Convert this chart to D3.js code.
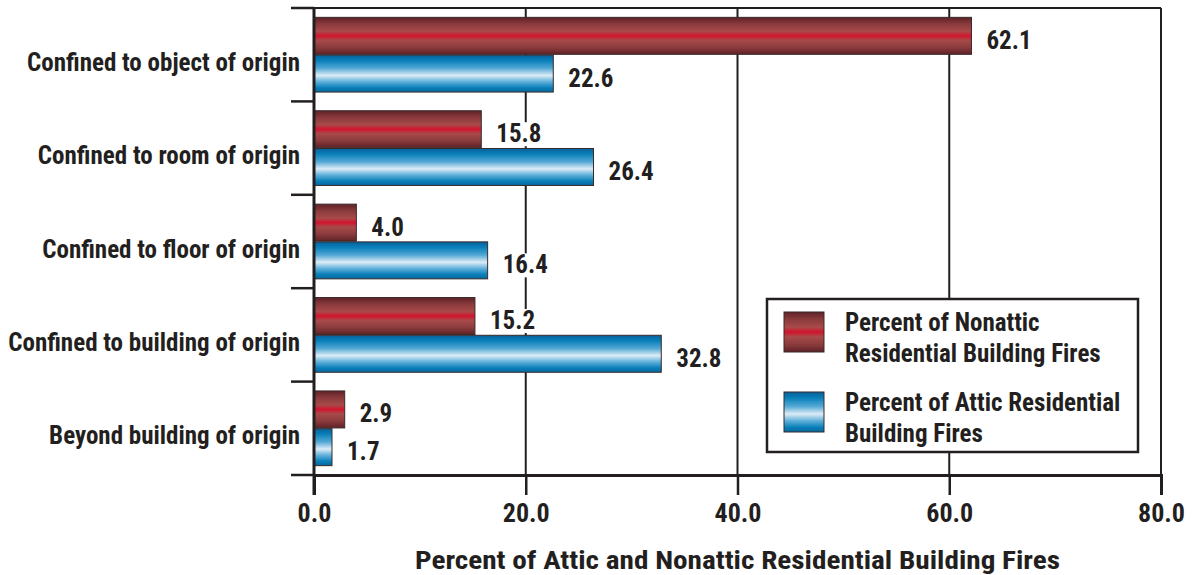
<!DOCTYPE html>
<html>
<head>
<meta charset="utf-8">
<script src="https://cdn.jsdelivr.net/npm/d3@7"></script>
<style>
  html, body { margin: 0; padding: 0; background: #fff; }
  svg { display: block; }
  text { font-family: "Liberation Sans Narrow", "Arial Narrow", "Roboto Condensed", "Liberation Sans", sans-serif; font-weight: bold; fill: #231f20; }
</style>
</head>
<body>
<svg id="chart" width="1192" height="575"></svg>
<script>
// Extent of fire spread, attic vs. nonattic residential building fires (%)
const categories = [
  "Confined to object of origin",
  "Confined to room of origin",
  "Confined to floor of origin",
  "Confined to building of origin",
  "Beyond building of origin"
];
const nonatticValues = [62.1, 15.8, 4.0, 15.2, 2.9];
const atticValues = [22.6, 26.4, 16.4, 32.8, 1.7];
const xTicks = [0, 20, 40, 60, 80];
const seriesNames = [
  ["Percent of Nonattic", "Residential Building Fires"],
  ["Percent of Attic Residential", "Building Fires"]
];
const axisTitle = "Percent of Attic and Nonattic Residential Building Fires";

const svg = d3.select("#chart");
const margin = { left: 314, right: 31, top: 8, bottom: 100 };
const W = 1192, H = 575;
const innerW = W - margin.left - margin.right;
const innerH = H - margin.top - margin.bottom;

const x = d3.scaleLinear().domain([0, 80]).range([margin.left, margin.left + innerW]);
const y = d3.scaleBand().domain(categories).range([margin.top, margin.top + innerH]).paddingInner(0.2).paddingOuter(0.1);
const sub = d3.scaleBand().domain(["nonattic", "attic"]).range([0, y.bandwidth()]).paddingInner(0.02);

// gradients
const defs = svg.append("defs");
const redGrad = defs.append("linearGradient").attr("id", "gradRed").attr("x1", 0).attr("y1", 0).attr("x2", 0).attr("y2", 1);
[[0, "#5e2227"], [0.18, "#8a3a3c"], [0.38, "#a84a4a"], [0.5, "#d2142d"], [0.62, "#a84a4a"], [0.82, "#8a3a3c"], [1, "#5e2227"]]
  .forEach(([o, c]) => redGrad.append("stop").attr("offset", o).attr("stop-color", c));
const blueGrad = defs.append("linearGradient").attr("id", "gradBlue").attr("x1", 0).attr("y1", 0).attr("x2", 0).attr("y2", 1);
[[0, "#06609a"], [0.15, "#0a80ba"], [0.35, "#4fa6d3"], [0.55, "#dcecf6"], [0.72, "#5fb0da"], [0.88, "#0a80ba"], [1, "#06689e"]]
  .forEach(([o, c]) => blueGrad.append("stop").attr("offset", o).attr("stop-color", c));

const lineColor = "#231f20";
const fs = 25;

// vertical gridlines
svg.append("g").selectAll("line").data(xTicks.slice(1)).join("line")
  .attr("x1", d => x(d)).attr("x2", d => x(d))
  .attr("y1", margin.top).attr("y2", margin.top + innerH)
  .attr("stroke", lineColor).attr("stroke-width", 2);
// top border
svg.append("line").attr("x1", margin.left).attr("x2", x(80))
  .attr("y1", margin.top).attr("y2", margin.top).attr("stroke", lineColor).attr("stroke-width", 2);

// bars and value labels (labels sit on a white box over the gridlines)
const rows = categories.map((c, i) => ({ c, nonattic: nonatticValues[i], attic: atticValues[i] }));
const series = [
  { key: "nonattic", fill: "url(#gradRed)" },
  { key: "attic", fill: "url(#gradBlue)" }
];
series.forEach(s => {
  const g = svg.append("g");
  g.selectAll("rect").data(rows).join("rect")
    .attr("x", x(0))
    .attr("y", d => y(d.c) + sub(s.key))
    .attr("width", d => x(d[s.key]) - x(0))
    .attr("height", sub.bandwidth())
    .attr("fill", s.fill)
    .attr("stroke", "#3a2a2a").attr("stroke-width", 1);
  const lbl = g.selectAll("g.lbl").data(rows).join("g").attr("class", "lbl");
  lbl.append("rect").attr("fill", "#fff");
  const txt = lbl.append("text")
    .attr("x", d => x(d[s.key]) + 15)
    .attr("y", d => y(d.c) + sub(s.key) + sub.bandwidth() / 2 + 4)
    .attr("dy", "0.36em")
    .attr("font-size", fs)
    .text(d => d[s.key].toFixed(1));
  txt.each(function () {
    const b = this.getBBox();
    d3.select(this.parentNode).select("rect")
      .attr("x", b.x - 2).attr("y", b.y + 3).attr("width", b.width + 4).attr("height", b.height - 5);
  });
});

// left axis
const yAxisLine = svg.append("g");
yAxisLine.append("line").attr("x1", margin.left).attr("x2", margin.left)
  .attr("y1", margin.top).attr("y2", margin.top + innerH + 20)
  .attr("stroke", lineColor).attr("stroke-width", 3);
const bounds = d3.range(categories.length + 1).map(i => margin.top + i * innerH / categories.length);
yAxisLine.selectAll("line.tk").data(bounds).join("line").attr("class", "tk")
  .attr("x1", margin.left - 23).attr("x2", margin.left)
  .attr("y1", d => d).attr("y2", d => d)
  .attr("stroke", lineColor).attr("stroke-width", 2.5);
yAxisLine.selectAll("text").data(categories).join("text")
  .attr("x", margin.left - 14)
  .attr("y", d => y(d) + y.bandwidth() / 2 + 7)
  .attr("dy", "0.36em")
  .attr("text-anchor", "end")
  .attr("font-size", fs)
  .text(d => d);

// bottom axis
const xAxis = d3.axisBottom(x).tickValues(xTicks).tickFormat(d3.format(".1f")).tickSize(20).tickPadding(8.5);
const gx = svg.append("g").attr("transform", `translate(0,${margin.top + innerH})`).call(xAxis);
gx.select(".domain").attr("stroke", lineColor).attr("stroke-width", 3);
gx.selectAll(".tick line").attr("stroke", lineColor).attr("stroke-width", 2.5);
gx.selectAll(".tick text").attr("font-size", 26).attr("font-family", null).attr("fill", lineColor);

svg.append("text")
  .attr("x", (x(0) + x(80)) / 2)
  .attr("y", 569)
  .attr("text-anchor", "middle")
  .attr("font-size", 26.5)
  .attr("textLength", 645)
  .attr("lengthAdjust", "spacingAndGlyphs")
  .text(axisTitle);

// legend
const lg = svg.append("g");
lg.append("rect").attr("x", 767).attr("y", 299).attr("width", 371).attr("height", 153)
  .attr("fill", "#fff").attr("stroke", lineColor).attr("stroke-width", 2.5);
const legendFills = ["url(#gradRed)", "url(#gradBlue)"];
seriesNames.forEach((lines, i) => {
  const top = 312 + i * 80;
  lg.append("rect").attr("x", 784).attr("y", top).attr("width", 40).attr("height", 40)
    .attr("fill", legendFills[i]).attr("stroke", "#3a2a2a").attr("stroke-width", 1);
  lines.forEach((t, j) => {
    lg.append("text").attr("x", 845).attr("y", top + 18.5 + j * 31)
      .attr("font-size", fs).text(t);
  });
});
</script>
</body>
</html>
